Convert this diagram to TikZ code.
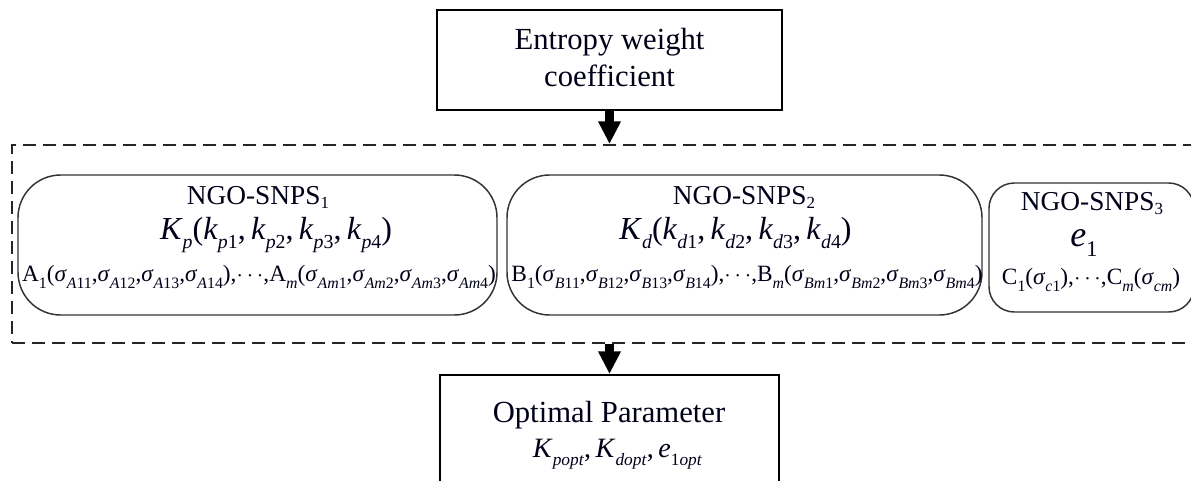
\documentclass[tikz,border=0pt]{standalone}
\usepackage{fontspec}
\setmainfont{Liberation Serif}
\usepackage{graphicx}
\usetikzlibrary{arrows.meta,fit}
\newcommand\mi[1]{\textit{#1}}
\newcommand\lw[2][0.62]{\raisebox{-0.3em}{\scalebox{#1}{#2}}}
\newcommand\ls[1]{\raisebox{-0.15em}{\scalebox{0.62}{#1}}}
\newcommand\fs[2]{\fontsize{#1}{#2}\selectfont}
\begin{document}
\begin{tikzpicture}[x=0.75pt,y=-0.75pt,
  box/.style={draw=black,line width=1.5pt,inner sep=0pt},
  rbox/.style={draw=black!80,line width=1.1pt,inner sep=0pt},
  grp/.style={draw=black!85,line width=1.5pt,dash pattern=on 10pt off 5pt,inner sep=0pt},
  txt/.style={anchor=base,inner sep=0pt,text=black!90!blue},
  bigarrow/.style={line width=7pt,black,-{Triangle[width=16pt,length=17pt]}}
]
\useasboundingbox (0,0) rectangle (1191,481);
\clip (0,0) rectangle (1191,481);
% boxes
\node[box,fit={(437,10) (782,110)}] (ew) {};
\node[grp,fit={(12,145) (1215,343)}] (grp) {};
\node[rbox,rounded corners=32pt,fit={(18,175) (497,315)}] (b1) {};
\node[rbox,rounded corners=32pt,fit={(507,175) (982,315)}] (b2) {};
\node[rbox,rounded corners=19pt,fit={(989,183) (1194,312)}] (b3) {};
\node[box,fit={(440,375) (779,520)}] (opt) {};
% arrows
\draw[bigarrow] (ew.south) -- (ew.south |- grp.north);
\draw[bigarrow] (grp.south -| opt.north) -- (opt.north);
% top text
\node[txt,font=\fs{23pt}{27pt}] (ew1) at (609.5,50) {Entropy weight};
\node[txt,font=\fs{23pt}{27pt}] (ew2) at (609.5,87) {coefficient};
% box 1
\node[txt,font=\fs{20.5pt}{24pt}] (n1) at (258,204) {NGO-SNPS\ls{1}};
\node[txt,font=\fs{24pt}{28pt}] (k1) at (276,239) {\mi{K}\lw{\mi{p}}(\mi{k}\lw{\mi{p}1},\,\mi{k}\lw{\mi{p}2},\,\mi{k}\lw{\mi{p}3},\,\mi{k}\lw{\mi{p}4})};
\node[txt,font=\fs{17.5pt}{20pt}] (a1) at (259,281) {A\lw[0.68]{1}(\mi{σ}\lw[0.68]{\mi{A}11},\mi{σ}\lw[0.68]{\mi{A}12},\mi{σ}\lw[0.68]{\mi{A}13},\mi{σ}\lw[0.68]{\mi{A}14}),$\cdots$,A\lw[0.68]{\mi{m}}(\mi{σ}\lw[0.68]{\mi{Am}1},\mi{σ}\lw[0.68]{\mi{Am}2},\mi{σ}\lw[0.68]{\mi{Am}3},\mi{σ}\lw[0.68]{\mi{Am}4})};
% box 2
\node[txt,font=\fs{20.5pt}{24pt}] (n2) at (744,204) {NGO-SNPS\ls{2}};
\node[txt,font=\fs{24pt}{28pt}] (k2) at (735.5,239) {\mi{K}\lw{\mi{d}}(\mi{k}\lw{\mi{d}1},\,\mi{k}\lw{\mi{d}2},\,\mi{k}\lw{\mi{d}3},\,\mi{k}\lw{\mi{d}4})};
\node[txt,font=\fs{17.5pt}{20pt}] (a2) at (747,281) {B\lw[0.68]{1}(\mi{σ}\lw[0.68]{\mi{B}11},\mi{σ}\lw[0.68]{\mi{B}12},\mi{σ}\lw[0.68]{\mi{B}13},\mi{σ}\lw[0.68]{\mi{B}14}),$\cdots$,B\lw[0.68]{\mi{m}}(\mi{σ}\lw[0.68]{\mi{Bm}1},\mi{σ}\lw[0.68]{\mi{Bm}2},\mi{σ}\lw[0.68]{\mi{Bm}3},\mi{σ}\lw[0.68]{\mi{Bm}4})};
% box 3
\node[txt,font=\fs{20.5pt}{24pt}] (n3) at (1092,210) {NGO-SNPS\ls{3}};
\node[txt,font=\fs{27pt}{32pt}] (e3) at (1084,246) {\mi{e}\lw{1}};
\node[txt,font=\fs{17.5pt}{20pt}] (a3) at (1091,284) {C\lw[0.68]{1}(\mi{σ}\lw[0.68]{\mi{c}1}),$\cdots$,C\lw[0.68]{\mi{m}}(\mi{σ}\lw[0.68]{\mi{cm}})};
% bottom text
\node[txt,font=\fs{23pt}{27pt}] (op1) at (609,422) {Optimal Parameter};
\node[txt,font=\fs{21pt}{26pt}] (op2) at (617.5,457) {\mi{K}\lw{\mi{popt}},\,\mi{K}\lw{\mi{dopt}},\,\mi{e}\lw{1\mi{opt}}};
\end{tikzpicture}
\end{document}
